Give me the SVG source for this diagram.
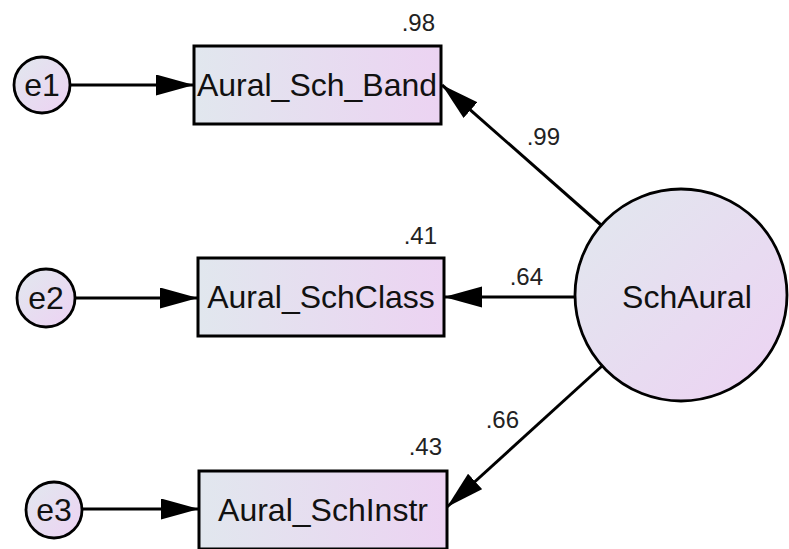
<svg xmlns="http://www.w3.org/2000/svg" width="789" height="549" viewBox="0 0 789 549">
<style>
.box{stroke:#000;stroke-width:3;fill:url(#gh)}
.circ{stroke:#000;stroke-width:2.8;fill:url(#gd)}
.lbl{font-family:"Liberation Sans",Arial,sans-serif;font-size:32px;fill:#111;text-anchor:middle}
.num{font-family:"Liberation Sans",Arial,sans-serif;font-size:24px;fill:#222;text-anchor:end}
.edge{stroke:#000;stroke-width:3;fill:none;marker-end:url(#ah)}
</style>
<defs>
<linearGradient id="gh" x1="0" y1="0" x2="1" y2="0">
<stop offset="0" stop-color="#e1e7ee"/>
<stop offset="1" stop-color="#ecd3f2"/>
</linearGradient>
<linearGradient id="gd" x1="0" y1="0" x2="1" y2="1">
<stop offset="0" stop-color="#e1e8ee"/>
<stop offset="1" stop-color="#edd2f3"/>
</linearGradient>
<marker id="ah" markerUnits="userSpaceOnUse" markerWidth="40" markerHeight="22" refX="38" refY="10.5" orient="auto" viewBox="0 0 40 22">
<path d="M0,0 L38,10.5 L0,21 z" fill="#000"/>
</marker>
</defs>
<g id="connectors">
<line class="edge" x1="71" y1="85" x2="194" y2="85"/>
<line class="edge" x1="76" y1="298" x2="198" y2="298"/>
<line class="edge" x1="82" y1="509" x2="199" y2="509"/>
<line class="edge" x1="601" y1="225" x2="442" y2="85"/>
<line class="edge" x1="575" y1="297" x2="444" y2="297"/>
<line class="edge" x1="602" y1="366" x2="447" y2="507"/>
</g>
<g id="e1"><circle class="circ" cx="42" cy="85" r="28"/><text class="lbl" x="42" y="96">e1</text></g>
<g id="e2"><circle class="circ" cx="46" cy="298" r="29"/><text class="lbl" x="46" y="309">e2</text></g>
<g id="e3"><circle class="circ" cx="54" cy="510" r="28"/><text class="lbl" x="54" y="521">e3</text></g>
<g id="Aural_Sch_Band"><rect class="box" x="194" y="46" width="247" height="78"/><text class="lbl" x="317" y="96">Aural_Sch_Band</text><text class="num" x="435" y="31">.98</text></g>
<g id="Aural_SchClass"><rect class="box" x="198" y="258" width="246" height="78"/><text class="lbl" x="321" y="308">Aural_SchClass</text><text class="num" x="437" y="244">.41</text></g>
<g id="Aural_SchInstr"><rect class="box" x="199" y="471" width="248" height="78"/><text class="lbl" x="323" y="521">Aural_SchInstr</text><text class="num" x="442" y="455">.43</text></g>
<g id="SchAural"><circle class="circ" cx="681" cy="295" r="106"/><text class="lbl" x="687" y="308">SchAural</text></g>
<g id="edge-labels">
<text class="num" x="560" y="145">.99</text>
<text class="num" x="543" y="285">.64</text>
<text class="num" x="519" y="428">.66</text>
</g>
</svg>
